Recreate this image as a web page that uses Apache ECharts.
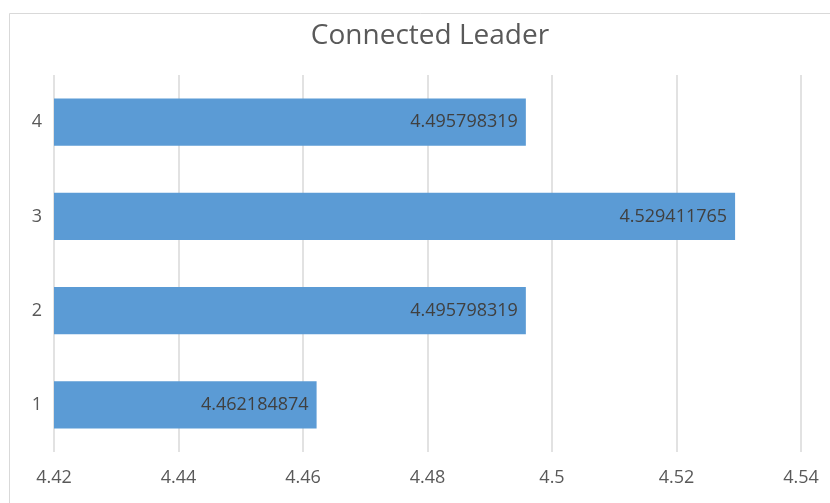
<!DOCTYPE html>
<html>
<head>
<meta charset="utf-8">
<script src="https://cdn.jsdelivr.net/npm/echarts@6/dist/echarts.min.js"></script>
<style>
  html, body { margin: 0; padding: 0; background: #ffffff; }
  #chart { width: 830px; height: 503px; }
</style>
</head>
<body>
<div id="chart"></div>
<script>
// Category labels (bottom to top) and their scores
const categories = ['1', '2', '3', '4'];
const values = [4.462184874, 4.495798319, 4.529411765, 4.495798319];
// Value axis range
const axisMin = 4.42;
const axisMax = 4.54;
const axisStep = 0.02;

const chart = echarts.init(document.getElementById('chart'), null, { renderer: 'canvas' });
const font = '"Open Sans", "Noto Sans", sans-serif';

chart.setOption({
  animation: false,
  backgroundColor: '#ffffff',
  title: {
    text: 'Connected Leader',
    left: 425,
    textAlign: 'center',
    top: 17,
    textStyle: { fontFamily: font, fontSize: 28, fontWeight: 'normal', color: '#595959' }
  },
  graphic: [{
    type: 'rect',
    shape: { x: 9.5, y: 13.5, width: 840, height: 520 },
    style: { fill: 'none', stroke: '#d9d9d9', lineWidth: 1 },
    silent: true
  }],
  grid: { left: 54, right: 29, top: 75, bottom: 51 },
  xAxis: {
    type: 'value',
    min: axisMin,
    max: axisMax,
    interval: axisStep,
    axisLine: { show: false },
    axisTick: { show: false },
    splitLine: { show: true, lineStyle: { color: '#d9d9d9', width: 1.5 } },
    axisLabel: {
      fontFamily: font, fontSize: 18, color: '#595959', margin: 17,
      formatter: v => String(parseFloat(v.toFixed(4)))
    }
  },
  yAxis: {
    type: 'category',
    data: categories,
    axisLine: { show: false },
    axisTick: { show: false },
    axisLabel: { fontFamily: font, fontSize: 18, color: '#595959', margin: 12 }
  },
  series: [{
    type: 'bar',
    data: values,
    barCategoryGap: '50%',
    itemStyle: { color: '#5b9bd5' },
    label: {
      show: true,
      position: 'insideRight',
      distance: 8,
      fontFamily: font,
      fontSize: 18,
      color: '#404040',
      formatter: p => String(p.value)
    }
  }]
});
</script>
</body>
</html>
